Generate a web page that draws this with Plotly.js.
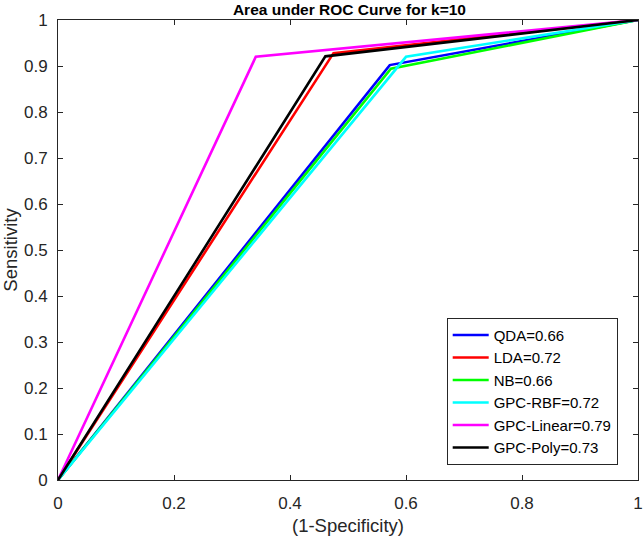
<!DOCTYPE html>
<html>
<head>
<meta charset="utf-8">
<script src="https://cdn.plot.ly/plotly-3.0.1.min.js"></script>
<style>html,body{margin:0;padding:0;background:#fff;}#chart{width:644px;height:538px;}</style>
</head>
<body>
<div id="chart"></div>
<script>
// Model names and AUC labels
const models = ["QDA=0.66", "LDA=0.72", "NB=0.66", "GPC-RBF=0.72", "GPC-Linear=0.79", "GPC-Poly=0.73"];
const colors = ["#0000ff", "#ff0000", "#00ff00", "#00ffff", "#ff00ff", "#000000"];
// ROC points (1-Specificity, Sensitivity) per model
const fprQDA = [0, 0.572, 1];     const tprQDA = [0, 0.902, 1];
const fprLDA = [0, 0.475, 1];     const tprLDA = [0, 0.928, 1];
const fprNB = [0, 0.574, 1];      const tprNB = [0, 0.894, 1];
const fprRBF = [0, 0.600, 1];     const tprRBF = [0, 0.920, 1];
const fprLinear = [0, 0.341, 1];  const tprLinear = [0, 0.920, 1];
const fprPoly = [0, 0.461, 1];    const tprPoly = [0, 0.921, 1];
const xTicks = [0, 0.2, 0.4, 0.6, 0.8, 1];
const xTickText = ["0", "0.2", "0.4", "0.6", "0.8", "1"];
const yTicks = [0, 0.1, 0.2, 0.3, 0.4, 0.5, 0.6, 0.7, 0.8, 0.9, 1];
const yTickText = ["0", "0.1", "0.2", "0.3", "0.4", "0.5", "0.6", "0.7", "0.8", "0.9", "1"];

const xs = [fprQDA, fprLDA, fprNB, fprRBF, fprLinear, fprPoly];
const ys = [tprQDA, tprLDA, tprNB, tprRBF, tprLinear, tprPoly];

const traces = models.map((m, i) => ({
  x: xs[i], y: ys[i], name: m, type: "scatter", mode: "lines",
  line: {color: colors[i], width: 2.6}
}));

const axCol = "#262626";
const fontFam = "Arial, 'Liberation Sans', Helvetica, sans-serif";
const layout = {
  width: 644, height: 538,
  margin: {l: 58, r: 6, t: 20, b: 58},
  paper_bgcolor: "#fff", plot_bgcolor: "#fff",
  font: {family: fontFam, color: axCol},
  title: {text: "Area under ROC Curve for k=10", font: {size: 15.5, weight: "bold", color: "#000"},
          x: 0.5426, xanchor: "center", y: 1 - 10/538, yanchor: "middle", yref: "container"},
  xaxis: {range: [0, 1], tickvals: xTicks, ticktext: xTickText, ticks: "inside", ticklen: 5, tickwidth: 1,
          tickcolor: axCol, showline: true, linecolor: axCol, linewidth: 1, mirror: "ticks",
          showgrid: false, zeroline: false, tickfont: {size: 17, color: axCol}, ticklabelstandoff: 8,
          ticklabeloverflow: "allow",
          title: {text: "(1-Specificity)", font: {size: 18.5, color: axCol}, standoff: 6}},
  yaxis: {range: [0, 1], tickvals: yTicks, ticktext: yTickText, ticks: "inside", ticklen: 5, tickwidth: 1,
          tickcolor: axCol, showline: true, linecolor: axCol, linewidth: 1, mirror: "ticks",
          showgrid: false, zeroline: false, tickfont: {size: 17, color: axCol}, ticklabelstandoff: 6,
          ticklabeloverflow: "allow",
          title: {text: "Sensitivity", font: {size: 18.5, color: axCol}, standoff: 8}},
  showlegend: true,
  legend: {x: 0.965, xanchor: "right", y: 0.033, yanchor: "bottom", bgcolor: "#fff",
           bordercolor: axCol, borderwidth: 1, font: {size: 15, color: "#000"}, tracegroupgap: 0,
           itemwidth: 36}
};
Plotly.newPlot("chart", traces, layout, {displayModeBar: false, staticPlot: true});
</script>
</body>
</html>
